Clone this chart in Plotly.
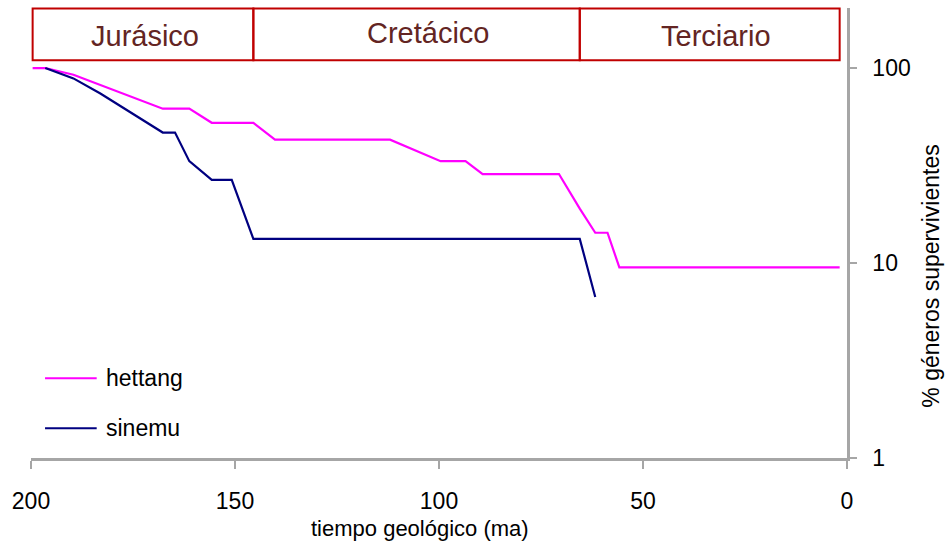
import plotly.graph_objects as go

# Geological time (million years ago) and percentage of surviving genera
hettang_ma = [199.6, 196.5, 189.6, 167.7, 161.2, 155.7, 145.5, 140.2, 112.0,
              99.6, 93.5, 89.3, 70.6, 65.5, 61.7, 58.7, 55.8, 1.8]
hettang_pct = [100, 100, 92.4, 61.9, 61.9, 52.4, 52.4, 42.9, 42.9,
               33.3, 33.3, 28.6, 28.6, 19.0, 14.3, 14.3, 9.5, 9.5]

sinemu_ma = [196.5, 189.6, 183.0, 167.7, 164.7, 161.2, 155.7, 150.8, 145.5,
             65.5, 61.7]
sinemu_pct = [100, 88.5, 74.0, 46.7, 46.7, 33.3, 26.7, 26.7, 13.3,
              13.3, 6.7]

series_names = ["hettang", "sinemu"]
series_colors = ["#FF00FF", "#000080"]

# Geological periods shown along the top
eras = ["Jurásico", "Cretácico", "Terciario"]
era_start = [199.6, 145.5, 65.5]
era_end = [145.5, 65.5, 1.8]

x_ticks = [200, 150, 100, 50, 0]
y_ticks = [1, 10, 100]

FONT = "Arial, 'Liberation Sans', sans-serif"
AXIS_GREY = "#A6A6A6"

fig = go.Figure()
for name, xs, ys, col in zip(series_names, [hettang_ma, sinemu_ma],
                             [hettang_pct, sinemu_pct], series_colors):
    fig.add_trace(go.Scatter(x=xs, y=ys, mode="lines", name=name,
                             line=dict(color=col, width=2.2),
                             showlegend=False, cliponaxis=False))

shapes = []
annotations = []

# Period boxes with labels
label_shift = [(2, -2), (12, 1), (6, -2)]
for name, s, e, (dx, dy) in zip(eras, era_start, era_end, label_shift):
    shapes.append(dict(type="rect", xref="x", yref="paper", x0=s, x1=e,
                       y0=0.884, y1=0.999,
                       line=dict(color="#C00000", width=2),
                       fillcolor="rgba(0,0,0,0)", layer="above"))
    annotations.append(dict(x=(s + e) / 2, y=0.943, xref="x", yref="paper",
                            text=name, showarrow=False, xshift=dx, yshift=dy,
                            xanchor="center", yanchor="middle",
                            font=dict(family=FONT, size=29, color="#632523")))

# Legend drawn inside the plot, lower left
legend_y = [0.177, 0.066]
for name, col, ly in zip(series_names, series_colors, legend_y):
    shapes.append(dict(type="line", xref="paper", yref="paper",
                       x0=0.0172, x1=0.0805, y0=ly, y1=ly,
                       line=dict(color=col, width=2)))
    annotations.append(dict(x=0.0895, y=ly, xref="paper", yref="paper",
                            text=name, showarrow=False,
                            xanchor="left", yanchor="middle",
                            font=dict(family=FONT, size=23, color="#000000")))

# Axis titles
annotations.append(dict(x=0.4767, y=-0.157, xref="paper", yref="paper",
                        text="tiempo geológico (ma)", showarrow=False,
                        xanchor="center", yanchor="middle",
                        font=dict(family=FONT, size=22, color="#000000")))
annotations.append(dict(x=1.103, y=0.403, xref="paper", yref="paper",
                        text="% géneros supervivientes", showarrow=False,
                        textangle=-90, xanchor="center", yanchor="middle",
                        font=dict(family=FONT, size=23, color="#000000")))

fig.update_layout(
    width=945, height=551,
    margin=dict(l=31, r=98, t=8, b=93),
    paper_bgcolor="white", plot_bgcolor="white",
    font=dict(family=FONT, size=23, color="#000000"),
    shapes=shapes, annotations=annotations,
    xaxis=dict(range=[200, 0], tickvals=x_ticks,
               ticktext=[str(v) for v in x_ticks],
               showgrid=False, zeroline=False, showline=True,
               linecolor=AXIS_GREY, linewidth=2.5,
               ticks="outside", ticklen=8, tickwidth=2, tickcolor=AXIS_GREY,
               ticklabelstandoff=13,
               tickfont=dict(family=FONT, size=23, color="#000000")),
    yaxis=dict(type="log", range=[0, 2.308], side="right",
               tickvals=y_ticks, ticktext=[str(v) for v in y_ticks],
               showgrid=False, zeroline=False, showline=True,
               linecolor=AXIS_GREY, linewidth=2.5,
               ticks="outside", ticklen=7, tickwidth=2, tickcolor=AXIS_GREY,
               ticklabelstandoff=11,
               tickfont=dict(family=FONT, size=23, color="#000000")),
)

fig.write_html("out.html")
